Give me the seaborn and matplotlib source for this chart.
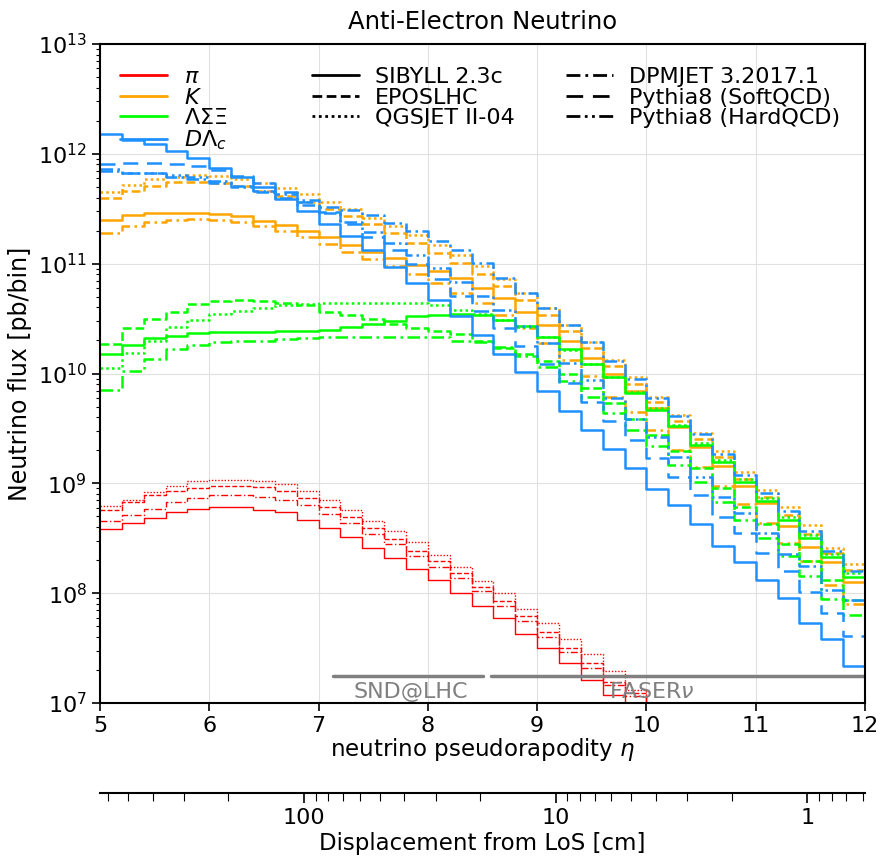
import numpy as np
import pandas as pd
import matplotlib.pyplot as plt
import seaborn as sns
from matplotlib.lines import Line2D
from matplotlib.ticker import NullFormatter

sns.set_style("whitegrid", {"axes.edgecolor": "black", "grid.color": "0.88",
                            "text.color": "black", "axes.labelcolor": "black",
                            "xtick.color": "black", "ytick.color": "black",
                            "xtick.bottom": True, "ytick.left": True})
plt.rcParams["font.family"] = ["DejaVu Sans"]
plt.rcParams["mathtext.fontset"] = "dejavusans"

# lower edges of the pseudorapidity bins (width 0.2)
eta_lo = [5.0, 5.2, 5.4, 5.6, 5.8, 6.0, 6.2, 6.4, 6.6, 6.8, 7.0, 7.2, 7.4, 7.6, 7.8,
          8.0, 8.2, 8.4, 8.6, 8.8, 9.0, 9.2, 9.4, 9.6, 9.8, 10.0, 10.2, 10.4, 10.6,
          10.8, 11.0, 11.2, 11.4, 11.6, 11.8]
eta_hi = 12.0

# log10(flux [pb/bin])
pi_sibyll = [8.58, 8.64, 8.68, 8.74, 8.77, 8.78, 8.78, 8.76, 8.74, 8.67, 8.59, 8.51, 8.41, 8.32, 8.22,
             8.12, 8.00, 7.88, 7.77, 7.63, 7.50, 7.36, 7.21, 7.07, 6.92, 6.77, 6.62, 6.47, 6.32,
             6.17, 6.02, 5.87, 5.72, 5.57, 5.42]
pi_epos = [8.76, 8.83, 8.89, 8.93, 8.96, 8.98, 8.98, 8.97, 8.93, 8.87, 8.78, 8.69, 8.59, 8.49, 8.38,
           8.29, 8.18, 8.06, 7.93, 7.79, 7.65, 7.50, 7.36, 7.19, 7.09, 6.94, 6.78, 6.62, 6.46,
           6.30, 6.14, 5.98, 5.82, 5.66, 5.50]
pi_qgsjet = [8.79, 8.85, 8.92, 8.98, 9.02, 9.03, 9.03, 9.02, 8.99, 8.93, 8.85, 8.76, 8.66, 8.57, 8.47,
             8.35, 8.24, 8.11, 8.00, 7.86, 7.73, 7.58, 7.45, 7.29, 7.12, 6.96, 6.80, 6.64, 6.48,
             6.32, 6.16, 6.00, 5.84, 5.68, 5.52]
pi_dpmjet = [8.66, 8.71, 8.77, 8.83, 8.87, 8.89, 8.89, 8.88, 8.85, 8.80, 8.72, 8.64, 8.54, 8.45, 8.34,
             8.24, 8.14, 8.02, 7.88, 7.75, 7.60, 7.46, 7.32, 7.16, 7.06, 6.90, 6.74, 6.58, 6.42,
             6.26, 6.10, 5.94, 5.78, 5.62, 5.46]

k_sibyll = [11.40, 11.44, 11.46, 11.46, 11.46, 11.45, 11.43, 11.39, 11.35, 11.30, 11.24, 11.17, 11.11,
            11.05, 10.99, 10.93, 10.87, 10.78, 10.69, 10.56, 10.44, 10.30, 10.14, 10.00, 9.84, 9.69,
            9.51, 9.33, 9.16, 8.98, 8.82, 8.61, 8.42, 8.28, 8.10]
k_epos = [11.60, 11.66, 11.71, 11.74, 11.74, 11.73, 11.71, 11.66, 11.62, 11.56, 11.50, 11.43, 11.36,
          11.28, 11.19, 11.10, 11.01, 10.91, 10.80, 10.67, 10.53, 10.39, 10.23, 10.07, 9.90, 9.74,
          9.57, 9.40, 9.24, 9.04, 8.88, 8.71, 8.54, 8.37, 8.21]
k_qgsjet = [11.65, 11.72, 11.77, 11.79, 11.81, 11.80, 11.77, 11.73, 11.69, 11.63, 11.56, 11.50, 11.42,
            11.34, 11.26, 11.17, 11.08, 10.98, 10.86, 10.73, 10.60, 10.44, 10.29, 10.12, 9.97, 9.79,
            9.62, 9.46, 9.29, 9.10, 8.94, 8.78, 8.62, 8.41, 8.27]
k_dpmjet = [11.28, 11.34, 11.38, 11.40, 11.41, 11.40, 11.38, 11.34, 11.30, 11.24, 11.18, 11.11, 11.04,
            10.98, 10.91, 10.82, 10.73, 10.64, 10.53, 10.41, 10.28, 10.12, 9.98, 9.79, 9.65, 9.49,
            9.30, 9.15, 8.98, 8.81, 8.64, 8.46, 8.29, 8.07, 7.90]

hyp_sibyll = [10.18, 10.26, 10.32, 10.34, 10.37, 10.38, 10.38, 10.38, 10.39, 10.39, 10.40, 10.42, 10.45,
              10.48, 10.52, 10.53, 10.54, 10.53, 10.49, 10.43, 10.33, 10.22, 10.09, 9.97, 9.82, 9.67,
              9.52, 9.35, 9.19, 9.01, 8.84, 8.67, 8.50, 8.33, 8.15]
hyp_epos = [10.27, 10.41, 10.50, 10.56, 10.63, 10.66, 10.67, 10.66, 10.64, 10.62, 10.56, 10.53, 10.50,
            10.45, 10.41, 10.39, 10.36, 10.30, 10.23, 10.18, 10.11, 10.00, 9.87, 9.73, 9.59, 9.44,
            9.29, 9.14, 8.96, 8.78, 8.63, 8.45, 8.29, 8.12, 7.94]
hyp_qgsjet = [10.05, 10.19, 10.30, 10.42, 10.49, 10.54, 10.57, 10.60, 10.62, 10.63, 10.64, 10.64, 10.64,
              10.64, 10.64, 10.62, 10.58, 10.54, 10.49, 10.42, 10.33, 10.21, 10.09, 9.97, 9.83, 9.69,
              9.53, 9.37, 9.21, 9.04, 8.87, 8.69, 8.53, 8.36, 8.18]
hyp_dpmjet = [9.85, 10.02, 10.13, 10.22, 10.26, 10.29, 10.30, 10.30, 10.31, 10.32, 10.33, 10.33, 10.33,
              10.33, 10.33, 10.33, 10.30, 10.29, 10.24, 10.16, 10.06, 9.93, 9.79, 9.64, 9.49, 9.34,
              9.17, 9.01, 8.83, 8.67, 8.50, 8.34, 8.16, 7.95, 7.80]

c_sibyll = [12.18, 12.13, 12.09, 12.03, 11.96, 11.87, 11.79, 11.70, 11.59, 11.48, 11.36, 11.25, 11.12,
            10.97, 10.82, 10.67, 10.52, 10.35, 10.18, 10.01, 9.84, 9.66, 9.49, 9.31, 9.14, 8.95,
            8.80, 8.63, 8.43, 8.28, 8.12, 7.96, 7.73, 7.58, 7.34]
c_dpmjet = [11.86, 11.83, 11.83, 11.79, 11.77, 11.73, 11.70, 11.66, 11.63, 11.58, 11.52, 11.49, 11.44,
            11.37, 11.30, 11.21, 11.12, 11.01, 10.87, 10.73, 10.60, 10.44, 10.29, 10.11, 9.95, 9.78,
            9.61, 9.45, 9.27, 9.08, 8.91, 8.75, 8.57, 8.38, 8.20]
c_py_soft = [11.91, 11.92, 11.92, 11.91, 11.89, 11.85, 11.80, 11.73, 11.65, 11.56, 11.47, 11.36, 11.24,
             11.12, 11.00, 10.86, 10.71, 10.57, 10.41, 10.25, 10.09, 9.91, 9.74, 9.57, 9.39, 9.23,
             9.06, 8.89, 8.69, 8.55, 8.37, 8.20, 8.01, 7.82, 7.61]
c_py_hard = [11.84, 11.83, 11.83, 11.81, 11.79, 11.75, 11.71, 11.65, 11.60, 11.53, 11.46, 11.38, 11.29,
             11.19, 11.08, 10.96, 10.83, 10.71, 10.58, 10.43, 10.28, 10.10, 9.94, 9.78, 9.59, 9.42,
             9.24, 9.06, 8.88, 8.73, 8.55, 8.36, 8.25, 8.03, 7.94]

species = {
    r"$\pi$": ("#ff0000", 1.0, {"SIBYLL 2.3c": pi_sibyll, "EPOSLHC": pi_epos,
                                "QGSJET II-04": pi_qgsjet, "DPMJET 3.2017.1": pi_dpmjet}),
    r"$K$": ("#ffa500", 1.8, {"SIBYLL 2.3c": k_sibyll, "EPOSLHC": k_epos,
                              "QGSJET II-04": k_qgsjet, "DPMJET 3.2017.1": k_dpmjet}),
    r"$\Lambda\Sigma\Xi$": ("#00ff00", 1.8, {"SIBYLL 2.3c": hyp_sibyll, "EPOSLHC": hyp_epos,
                                             "QGSJET II-04": hyp_qgsjet, "DPMJET 3.2017.1": hyp_dpmjet}),
    r"$D\Lambda_c$": ("#1e90ff", 1.8, {"SIBYLL 2.3c": c_sibyll, "DPMJET 3.2017.1": c_dpmjet,
                                       "Pythia8 (SoftQCD)": c_py_soft, "Pythia8 (HardQCD)": c_py_hard}),
}

generators = ["SIBYLL 2.3c", "EPOSLHC", "QGSJET II-04",
              "DPMJET 3.2017.1", "Pythia8 (SoftQCD)", "Pythia8 (HardQCD)"]
styles = {
    "SIBYLL 2.3c": "-",
    "EPOSLHC": (0, (3.5, 1.6)),
    "QGSJET II-04": (0, (1, 1.3)),
    "DPMJET 3.2017.1": (0, (5, 1.8, 1, 1.8)),
    "Pythia8 (SoftQCD)": (0, (6, 3.5)),
    "Pythia8 (HardQCD)": (0, (5, 1.6, 1, 1.6, 1, 1.6)),
}

fig = plt.figure(figsize=(8.82, 8.57), dpi=100)
ax = fig.add_axes([100 / 882, 154 / 857, 765 / 882, 659 / 857])

x_step = eta_lo + [eta_hi]
for name, (color, lw, runs) in species.items():
    for gen, vals in runs.items():
        flux = 10.0 ** np.array(vals + [vals[-1]])
        df = pd.DataFrame({"eta": x_step, "flux": flux})
        sns.lineplot(data=df, x="eta", y="flux", ax=ax, color=color, lw=lw,
                     linestyle=styles[gen], drawstyle="steps-post",
                     estimator=None, sort=False, legend=False)

ax.set_yscale("log")
ax.set_xlim(5, 12)
ax.set_ylim(1e7, 1e13)

# detector acceptance
gray = "#808080"
ax.plot([7.13, 8.5], [1.76e7, 1.76e7], color=gray, lw=2.5)
ax.plot([8.58, 12.0], [1.76e7, 1.76e7], color=gray, lw=2.5)
ax.text(7.84, 1.27e7, "SND@LHC", color=gray, fontsize=16, ha="center", va="center")
ax.text(10.05, 1.27e7, r"FASER$\nu$", color=gray, fontsize=16, ha="center", va="center")

ax.set_title("Anti-Electron Neutrino", fontsize=17.5, pad=11)
ax.set_xlabel(r"neutrino pseudorapodity $\eta$", fontsize=16.5, labelpad=0)
ax.set_ylabel("Neutrino flux [pb/bin]", fontsize=17, labelpad=4)
ax.tick_params(axis="both", which="major", labelsize=16, length=6, width=1.2)
ax.tick_params(axis="both", which="minor", length=3, width=0.8)
for s in ax.spines.values():
    s.set_linewidth(1.5)

# legend: particle species
sp_handles = [Line2D([], [], color=c, lw=2, label=n) for n, (c, lw, r) in species.items()]
leg1 = ax.legend(handles=sp_handles, loc="upper left", bbox_to_anchor=(0.026, 0.965),
                 frameon=False, fontsize=16, handlelength=2.1, handletextpad=0.8,
                 labelspacing=0.02, borderpad=0, borderaxespad=0)
ax.add_artist(leg1)

# legend: event generators
gen_handles = [Line2D([], [], color="black", lw=2, linestyle=styles[g], label=g) for g in generators]
ax.legend(handles=gen_handles, ncol=2, loc="upper left", bbox_to_anchor=(0.277, 0.965),
          frameon=False, fontsize=16, handlelength=2.1, handletextpad=0.75,
          labelspacing=0.02, columnspacing=2.3, borderpad=0, borderaxespad=0)

# displacement from line of sight at the FASER location (480 m)
L_cm = 48000.0
d_lo = L_cm * np.tan(2 * np.arctan(np.exp(-5.0)))
d_hi = L_cm * np.tan(2 * np.arctan(np.exp(-12.0)))
ax2 = fig.add_axes([100 / 882, 64 / 857, 765 / 882, 0.0001])
ax2.set_facecolor("none")
ax2.set_xscale("log")
ax2.set_xlim(d_lo, d_hi)
ax2.grid(False)
ax2.set_yticks([])
for side in ["top", "left", "right"]:
    ax2.spines[side].set_visible(False)
ax2.spines["bottom"].set_linewidth(1.5)
ax2.set_xticks([100, 10, 1])
ax2.set_xticklabels(["100", "10", "1"])
ax2.xaxis.set_minor_formatter(NullFormatter())
ax2.tick_params(axis="x", which="major", labelsize=16, length=7, width=1.2)
ax2.tick_params(axis="x", which="minor", length=6, width=0.8)
ax2.set_xlabel("Displacement from LoS [cm]", fontsize=16.5, labelpad=3)

fig.savefig("out.png", dpi=100)
